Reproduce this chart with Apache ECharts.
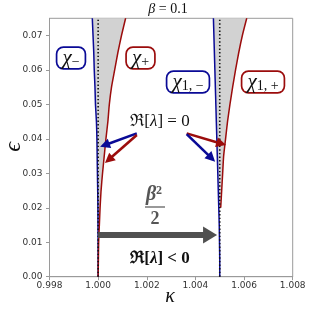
<!DOCTYPE html>
<html><head><meta charset="utf-8">
<script src="https://cdn.jsdelivr.net/npm/echarts@6/dist/echarts.min.js"></script>
<style>html,body{margin:0;padding:0;background:#fff}#c{width:311px;height:311px}</style>
</head><body><div id="c"></div>
<script>
// ---- data ----
var epsGrid = [0, 0.005, 0.01, 0.015, 0.02, 0.025, 0.03, 0.035, 0.04, 0.045, 0.05, 0.055, 0.06, 0.065, 0.07, 0.075];
// kappa - 1 for the chi_- (blue) and chi_+ (red) boundaries
var blue0 = [0, -0.000001, -0.000003, -0.000006, -0.00001, -0.000018, -0.00003, -0.00004, -0.00005, -0.00007, -0.00011, -0.00013, -0.00016, -0.00018, -0.00021, -0.00024];
var red0  = [0, 0.00001, 0.00002, 0.00005, 0.00008, 0.00012, 0.00018, 0.00025, 0.00032, 0.0004, 0.00046, 0.00055, 0.00068, 0.00081, 0.00096, 0.00113];
// kappa - 1.005 for the chi_{1,-} (blue) and chi_{1,+} (red) boundaries
var blue1 = [0, 0, -0.00001, -0.00002, -0.00004, -0.00006, -0.00008, -0.0001, -0.00012, -0.00014, -0.00016, -0.00018, -0.0002, -0.00022, -0.00024, -0.00026];
var eps1red = [0.02, 0.025, 0.03, 0.035, 0.04, 0.045, 0.05, 0.055, 0.06, 0.065, 0.07, 0.075];
var red1  = [0.00004, 0.00008, 0.00012, 0.00016, 0.00024, 0.00032, 0.00042, 0.00053, 0.00065, 0.00078, 0.00093, 0.00111];
var kappaRes = [1.0, 1.005];
var xTicks = [0.998, 1.0, 1.002, 1.004, 1.006, 1.008];
var yTicks = [0, 0.01, 0.02, 0.03, 0.04, 0.05, 0.06, 0.07];

function pts(base, ks, es) { return ks.map(function (k, i) { return [base + k, es[i]]; }); }
var blue0Pts = pts(kappaRes[0], blue0, epsGrid);
var red0Pts = pts(kappaRes[0], red0, epsGrid);
var blue1Pts = pts(kappaRes[1], blue1, epsGrid);
var red1Pts = pts(kappaRes[1], red1, eps1red);
var blue1Upper = blue1Pts.filter(function (p) { return p[1] >= eps1red[0] - 1e-9; });
var regions = [[blue0Pts, red0Pts], [blue1Upper, red1Pts]];

// annotation arrows: [tailK, tailE, tipK, tipE]
var arrows = [
  {p: [1.00159, 0.0416, 1.00008, 0.0377], c: '#0a0a96', w: 2.6, hl: 10, hw: 10},
  {p: [1.00159, 0.0411, 1.00028, 0.0330], c: '#9b0c0c', w: 2.6, hl: 10, hw: 10},
  {p: [1.00364, 0.0416, 1.00526, 0.0382], c: '#9b0c0c', w: 2.6, hl: 10, hw: 10},
  {p: [1.00364, 0.0414, 1.00481, 0.0334], c: '#0a0a96', w: 2.6, hl: 10, hw: 10},
  {p: [1.0, 0.0121, 1.00489, 0.0121], c: '#505050', w: 6, hl: 14, hw: 17}
];

var BLUE = '#0a0a96', RED = '#9b0c0c';
var serif = '"Liberation Serif", "DejaVu Serif", serif';

var chart = echarts.init(document.getElementById('c'), null, {renderer: 'canvas'});

function lineSeries(data, color, z) {
  return {type: 'line', data: data, showSymbol: false, smooth: 0.2, z: z, silent: true,
    lineStyle: {color: color, width: 1.5}, animation: false};
}
function boxed(x, y, sub, color) {
  return {type: 'text', x: x, y: y, z: 10, style: {
    text: '{c|χ}{s|' + sub + '}', align: 'center', verticalAlign: 'middle',
    backgroundColor: '#fff', borderColor: color, borderWidth: 1.7, borderRadius: 6, padding: [1, 5, 1, 5],
    rich: {c: {fontFamily: serif, fontStyle: 'italic', fontSize: 21, fill: '#111', lineHeight: 18},
      s: {fontFamily: serif, fontSize: 14, fill: '#111', padding: [9, 0, 0, 0], lineHeight: 18}}
  }};
}

var option = {
  animation: false,
  grid: {left: 49.5, right: 18.3, top: 18.3, bottom: 34.3, show: true, borderColor: '#9a9a9a', borderWidth: 1, outerBoundsMode: 'none'},
  xAxis: {type: 'value', min: 0.998, max: 1.008, interval: 0.002,
    axisLine: {lineStyle: {color: '#9a9a9a'}},
    axisTick: {length: 3.5, lineStyle: {color: '#9a9a9a'}},
    axisLabel: {fontFamily: 'DejaVu Sans', fontSize: 9, color: '#333', margin: 4,
      formatter: function (v) { return v.toFixed(3); }},
    splitLine: {show: false}
  },
  yAxis: {type: 'value', min: 0, max: 0.075, interval: 0.01,
    axisLine: {show: true, lineStyle: {color: '#9a9a9a'}},
    axisTick: {show: true, length: 3.5, lineStyle: {color: '#9a9a9a'}, customValues: yTicks},
    axisLabel: {fontFamily: 'DejaVu Sans', fontSize: 9, color: '#333', margin: 7, customValues: yTicks,
      formatter: function (v) { return (+v).toFixed(2); }},
    splitLine: {show: false}
  },
  series: [
    {type: 'custom', coordinateSystem: 'cartesian2d', z: 1, silent: true,
      data: kappaRes.map(function (k) { return [k, 0.05]; }),
      renderItem: function (params, api) {
        var r = regions[params.dataIndex];
        var p = r[0].map(function (q) { return api.coord(q); });
        var right = r[1].slice().reverse().map(function (q) { return api.coord(q); });
        return {type: 'polygon', shape: {points: p.concat(right)}, style: {fill: '#d2d2d2'}};
      }},
    lineSeries(blue0Pts, BLUE, 3),
    lineSeries(red0Pts, RED, 3),
    lineSeries(blue1Pts, BLUE, 3),
    lineSeries(red1Pts, RED, 3),
    {type: 'line', data: [[kappaRes[0], 0], [kappaRes[0], 0.075]], showSymbol: false, z: 4, silent: true,
      lineStyle: {color: '#111', width: 1.6, type: [1.4, 2.2]}},
    {type: 'line', data: [[kappaRes[1], 0], [kappaRes[1], 0.075]], showSymbol: false, z: 4, silent: true,
      lineStyle: {color: '#111', width: 1.6, type: [1.4, 2.2]}},
    {type: 'custom', coordinateSystem: 'cartesian2d', z: 6, silent: true,
      data: arrows.map(function (a) { return [a.p[0], a.p[1]]; }),
      renderItem: function (params, api) {
        var a = arrows[params.dataIndex];
        var p0 = api.coord([a.p[0], a.p[1]]), p1 = api.coord([a.p[2], a.p[3]]);
        var dx = p1[0] - p0[0], dy = p1[1] - p0[1], L = Math.sqrt(dx * dx + dy * dy);
        var ux = dx / L, uy = dy / L, nx = -uy, ny = ux;
        var bx = p1[0] - ux * a.hl, by = p1[1] - uy * a.hl;
        return {type: 'group', children: [
          {type: 'line', shape: {x1: p0[0], y1: p0[1], x2: bx + ux, y2: by + uy}, style: {stroke: a.c, lineWidth: a.w}},
          {type: 'polygon', shape: {points: [p1, [bx + nx * a.hw / 2, by + ny * a.hw / 2], [bx - nx * a.hw / 2, by - ny * a.hw / 2]]}, style: {fill: a.c}}
        ]};
      }}
  ],
  graphic: [
    {type: 'text', x: 168, y: 9, z: 10, style: {text: '{i|β} = 0.1', align: 'center', verticalAlign: 'middle',
      font: '14px ' + serif, fill: '#111', rich: {i: {fontFamily: serif, fontStyle: 'italic', fontSize: 14}}}},
    {type: 'text', x: 170, y: 297, z: 10, style: {text: 'κ', align: 'center', verticalAlign: 'middle',
      font: 'italic 20px ' + serif, fill: '#111'}},
    {type: 'text', x: 13.5, y: 147, rotation: Math.PI / 2, z: 10, style: {text: 'ϵ', align: 'center', verticalAlign: 'middle',
      font: 'italic 24px ' + serif, fill: '#111'}},
    boxed(71, 58, '−', BLUE),
    boxed(140.5, 58, '+', RED),
    boxed(188, 82, '1, −', BLUE),
    boxed(263, 82, '1, +', RED),
    {type: 'text', x: 160, y: 122, z: 10, style: {text: 'ℜ[{i|λ}] = 0', align: 'center', verticalAlign: 'middle',
      font: '17px ' + serif, fill: '#111', rich: {i: {fontFamily: serif, fontStyle: 'italic', fontSize: 17}}}},
    {type: 'text', x: 160, y: 259, z: 10, style: {text: 'ℜ[{i|λ}] < 0', align: 'center', verticalAlign: 'middle',
      font: 'bold 17px ' + serif, fill: '#111', rich: {i: {fontFamily: serif, fontStyle: 'italic', fontWeight: 'bold', fontSize: 17}}}},
    {type: 'text', x: 154, y: 195, z: 10, style: {text: '{i|β}{s|2}', align: 'center', verticalAlign: 'middle',
      fill: '#555', rich: {i: {fontFamily: serif, fontStyle: 'italic', fontWeight: 'bold', fontSize: 20, fill: '#555'},
        s: {fontFamily: serif, fontWeight: 'bold', fontSize: 12, verticalAlign: 'top', padding: [0, 0, 8, 0], fill: '#555'}}}},
    {type: 'line', z: 10, shape: {x1: 145, y1: 207, x2: 165, y2: 207}, style: {stroke: '#555', lineWidth: 1.2}},
    {type: 'text', x: 155, y: 219, z: 10, style: {text: '2', align: 'center', verticalAlign: 'middle',
      font: 'bold 18px ' + serif, fill: '#555'}}
  ]
};
chart.setOption(option);
</script></body></html>
